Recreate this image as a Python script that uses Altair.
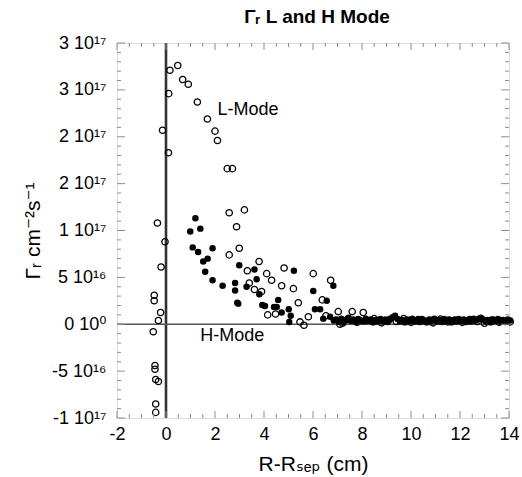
import altair as alt
import pandas as pd
import numpy as np

FONT = "Liberation Sans, DejaVu Sans, sans-serif"

# ---- data (y in units of 1e16 particles cm^-2 s^-1) ----
L_X = [0.16, 0.48, 0.68, 0.91, 0.11, 1.28, 1.69, -0.14, 2.00, 2.10, 0.10, 2.50, 2.71,
       -0.35, -0.04, -0.20, -0.48, -0.48, -0.22, -0.31, -0.52, -0.45, -0.45, -0.42, -0.31, -0.42, -0.42,
       2.58, 3.20, 2.88, 2.99, 2.58, 3.80, 3.32, 4.11, 4.31, 4.82, 3.40, 3.61, 3.90, 4.72, 5.20, 5.40,
       4.15, 4.47, 5.47, 5.63, 6.01, 6.72, 6.38, 5.81, 6.53, 7.03, 7.60, 8.05, 7.10,
       7.20, 7.40, 7.80, 8.20, 8.50, 8.80, 9.10, 9.40, 9.70, 10.00, 10.30, 10.60, 10.90, 11.20,
       11.50, 11.80, 12.10, 12.40, 12.70, 13.00, 13.30, 13.60, 13.90, 14.05]
L_Y = [27.1, 27.6, 26.1, 25.6, 24.6, 23.7, 21.9, 20.7, 20.6, 19.6, 18.3, 16.6, 16.6,
       10.8, 8.8, 6.1, 3.1, 2.5, 1.25, 0.4, -0.8, -4.4, -4.8, -5.9, -6.1, -8.5, -9.4,
       11.9, 12.2, 10.4, 8.1, 7.4, 6.7, 5.7, 5.4, 4.7, 6.0, 4.4, 3.7, 3.5, 4.1, 3.8, 2.3,
       1.0, 1.1, 0.25, -0.1, 5.4, 4.7, 2.6, 0.8, 0.9, 1.35, 1.35, 1.25, 0.0,
       0.1, 0.5, 0.2, 0.4, 0.6, 0.15, 0.45, 0.3, 0.6, 0.2, 0.5, 0.3, 0.15, 0.55,
       0.25, 0.45, 0.2, 0.5, 0.3, 0.1, 0.45, 0.2, 0.35, 0.25]

H_X = [1.20, 0.99, 1.40, 1.09, 1.31, 1.90, 1.52, 1.70, 1.60, 1.90, 2.31, 2.82, 2.82, 2.91, 2.95,
       2.99, 3.29, 3.61, 3.70, 3.81, 3.93, 4.04, 4.41, 4.52, 4.58, 4.72, 5.01, 5.09, 5.03, 5.22,
       6.01, 6.08, 6.29, 6.42, 6.56, 6.83, 6.70, 6.85,
       6.95, 7.05, 7.15, 7.25, 7.35, 7.45, 7.55, 7.65, 7.75, 7.85, 7.95, 8.05, 8.15, 8.25, 8.35,
       8.45, 8.55, 8.65, 8.75, 8.85, 8.95, 9.05, 9.15, 9.25, 9.35, 9.45, 9.55, 9.65, 9.75, 9.85,
       9.95, 10.05, 10.15, 10.25, 10.35, 10.45, 10.55, 10.65, 10.75, 10.85, 10.95, 11.05, 11.15,
       11.25, 11.35, 11.45, 11.55, 11.65, 11.75, 11.85, 11.95, 12.05, 12.15, 12.25, 12.35, 12.45,
       12.55, 12.65, 12.75, 12.85, 12.95, 13.05, 13.15, 13.25, 13.35, 13.45, 13.55, 13.65, 13.75,
       13.85, 13.95, 14.05]
H_Y = [11.3, 9.9, 10.2, 8.2, 7.7, 8.1, 6.7, 7.0, 5.6, 4.7, 4.1, 4.4, 3.6, 2.3, 2.2,
       6.3, 4.0, 5.85, 4.8, 3.2, 2.05, 1.95, 1.85, 1.85, 2.6, 1.25, 1.6, 0.9, 0.25, 5.7,
       3.55, 1.6, 1.6, 0.6, 2.5, 4.1, 0.8, 0.4,
       0.5, 0.3, 0.6, 0.2, 0.45, 0.7, 0.35, 0.5, 0.25, 0.55, 0.4, 0.3, 0.6, 0.35, 0.5,
       0.2, 0.45, 0.3, 0.55, 0.35, 0.5, 0.25, 0.6, 0.75, 0.9, 0.55, 0.3, 0.45, 0.2, 0.5,
       0.35, 0.6, 0.3, 0.45, 0.25, 0.55, 0.4, 0.2, 0.5, 0.35, 0.6, 0.3, 0.45,
       0.25, 0.55, 0.35, 0.5, 0.2, 0.45, 0.3, 0.55, 0.35, 0.5, 0.25, 0.45, 0.3,
       0.6, 0.4, 0.55, 0.7, 0.5, 0.3, 0.45, 0.2, 0.5, 0.35, 0.55, 0.3, 0.45,
       0.25, 0.5, 0.4]

X_TICKS = [-2, 0, 2, 4, 6, 8, 10, 12, 14]
Y_TICKS = [-10, -5, 0, 5, 10, 15, 20, 25, 30]
Y_LABELS = ["-1 10¹⁷", "-5 10¹⁶", "0 10⁰", "5 10¹⁶", "1 10¹⁷",
            "2 10¹⁷", "2 10¹⁷", "3 10¹⁷", "3 10¹⁷"]
ANN_TEXT = ["L-Mode", "H-Mode"]
ANN_X = [2.1, 1.4]
ANN_Y = [22.9, -1.2]

W, H = 392, 375
GRAY = "#8c8c8c"

xs = alt.Scale(domain=[-2, 14], nice=False, zero=False)
ys = alt.Scale(domain=[-10, 30], nice=False, zero=False)

y_expr = " : ".join(f"datum.value == {v} ? '{t}'" for v, t in zip(Y_TICKS, Y_LABELS)) + " : ''"

x_axis = alt.Axis(values=X_TICKS, labelExpr="'' + datum.value", ticks=False, domain=False,
                  grid=False, labelFont=FONT,
                  labelFontSize=18, labelColor="black", labelPadding=7, labelFlush=False,
                  labelOverlap=False, title="R-Rₛₑₚ (cm)", titleFont=FONT, titleFontSize=21,
                  titleFontWeight="normal", titleColor="black", titlePadding=10)
y_axis = alt.Axis(values=Y_TICKS, labelExpr=y_expr, ticks=False, domain=False, grid=False,
                  labelFont=FONT, labelFontSize=18, labelColor="black", labelPadding=11,
                  labelFlush=False, labelOverlap=False, title="Γᵣ cm⁻²s⁻¹", titleFont=FONT,
                  titleFontSize=21, titleFontWeight="normal", titleColor="black", titlePadding=8)


def X(field):
    return alt.X(f"{field}:Q", scale=xs, axis=x_axis)


def Y(field):
    return alt.Y(f"{field}:Q", scale=ys, axis=y_axis)


ldf = pd.DataFrame({"x": L_X, "y": L_Y})
hdf = pd.DataFrame({"x": H_X, "y": H_Y})

zero_df = pd.DataFrame({"v": [0]})
vline = alt.Chart(zero_df).mark_rule(color="#333333", strokeWidth=2.6).encode(x=X("v"))
hline = alt.Chart(zero_df).mark_rule(color="#555555", strokeWidth=1.3).encode(y=Y("v"))

open_pts = alt.Chart(ldf).mark_point(shape="circle", filled=False, color="black",
                                     size=40, strokeWidth=1.3, opacity=1).encode(
    x=X("x"), y=Y("y"))
filled_pts = alt.Chart(hdf).mark_circle(color="black", size=42, opacity=1).encode(
    x=X("x"), y=Y("y"))

x_major = X_TICKS
x_minor = [float(v) for v in np.arange(-2, 14.01, 0.5) if v not in X_TICKS]
y_major = Y_TICKS
y_minor = [float(v) for v in np.arange(-10, 30.01, 1) if v not in Y_TICKS]


def xticks(vals, ln):
    df = pd.DataFrame({"v": vals})
    base = alt.Chart(df).mark_rule(color=GRAY, strokeWidth=1)
    b = base.encode(x=X("v"), y=alt.value(H), y2=alt.value(H - ln))
    t = base.encode(x=X("v"), y=alt.value(0), y2=alt.value(ln))
    return [b, t]


def yticks(vals, ln):
    df = pd.DataFrame({"v": vals})
    base = alt.Chart(df).mark_rule(color=GRAY, strokeWidth=1)
    l = base.encode(y=Y("v"), x=alt.value(0), x2=alt.value(ln))
    r = base.encode(y=Y("v"), x=alt.value(W), x2=alt.value(W - ln))
    return [l, r]


tick_layers = xticks(x_major, 7) + xticks(x_minor, 4) + yticks(y_major, 8) + yticks(y_minor, 4)

ann = alt.Chart(pd.DataFrame({"x": ANN_X, "y": ANN_Y, "t": ANN_TEXT})).mark_text(
    align="left", baseline="middle", font=FONT, fontSize=18, color="black").encode(
    x=X("x"), y=Y("y"), text="t:N")

chart = alt.layer(vline, hline, open_pts, filled_pts, *tick_layers, ann).properties(
    width=W, height=H,
    title=alt.TitleParams("Γᵣ L and H Mode", font=FONT, fontSize=19, fontWeight="bold",
                          anchor="middle", offset=7, dx=4, color="black"),
    autosize=alt.AutoSizeParams(type="none"),
    padding={"left": 117, "top": 43, "right": 13, "bottom": 59},
).configure_view(stroke=GRAY, strokeWidth=1).configure(background="white")

chart.save("out.html", embed_options={"renderer": "svg", "actions": False})
